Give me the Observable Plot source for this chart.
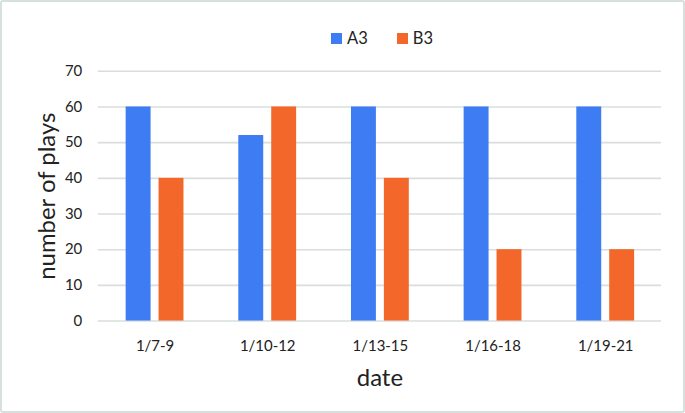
<!DOCTYPE html>
<html>
<head>
<meta charset="utf-8">
<script src="https://cdn.jsdelivr.net/npm/d3@7"></script>
<script src="https://cdn.jsdelivr.net/npm/@observablehq/plot@0.6"></script>
<style>
  html, body { margin: 0; padding: 0; background: #fff; }
  #wrap { position: relative; width: 685px; height: 413px; box-sizing: border-box;
          border: 2px solid #d6e0dd; border-radius: 3px; overflow: hidden; font-family: Lato, sans-serif; }
  #chart { position: absolute; left: -2px; top: -2px; }
  #legend { position: absolute; top: 26px; left: 329px; display: flex; align-items: center;
            font-size: 16.5px; color: #222; }
  .item { display: flex; align-items: center; margin-right: 29px; }
  .sw { width: 11px; height: 11px; margin-right: 5px; }
</style>
</head>
<body>
<div id="wrap">
  <div id="chart"></div>
  <div id="legend"></div>
</div>
<script>
const dates = ["1/7-9", "1/10-12", "1/13-15", "1/16-18", "1/19-21"];
const seriesNames = ["A3", "B3"];
const a3 = [60, 52, 60, 60, 60];
const b3 = [40, 60, 40, 20, 20];
const yTicks = [0, 10, 20, 30, 40, 50, 60, 70];
const colors = ["#3d7cf3", "#f4672a"];
const yTitle = "number of plays";
const xTitle = "date";

const rows = dates.map((d, i) => ({date: d, A3: a3[i], B3: b3[i]}));

const plot = Plot.plot({
  width: 685,
  height: 413,
  marginTop: 71,
  marginBottom: 91.5,
  marginLeft: 98,
  marginRight: 22,
  style: {fontFamily: "Lato, sans-serif", color: "#222", background: "transparent"},
  x: {type: "band", domain: dates, paddingInner: 0.487, paddingOuter: 0.2435},
  y: {domain: [0, 70]},
  marks: [
    Plot.ruleY(yTicks, {stroke: "#d9dedd", strokeWidth: 1.6}),
    Plot.barY(rows, {x: "date", y: "A3", fill: colors[0], insetRight: 33}),
    Plot.barY(rows, {x: "date", y: "B3", fill: colors[1], insetLeft: 33}),
    Plot.axisY({ticks: yTicks, tickSize: 0, tickPadding: 16, fontSize: 15, label: null, fill: "#222"}),
    Plot.axisX({tickSize: 0, tickPadding: 19, fontSize: 15, label: null, fill: "#222"}),
    Plot.text([xTitle], {frameAnchor: "bottom", text: d => d, dy: 65, lineAnchor: "bottom", textAnchor: "middle", fontSize: 24, fill: "#222"}),
    Plot.text([yTitle], {frameAnchor: "left", text: d => d, rotate: -90, dx: -43.5, lineAnchor: "bottom", textAnchor: "middle", fontSize: 24, fill: "#222"})
  ]
});
document.getElementById("chart").appendChild(plot);

const legend = document.getElementById("legend");
seriesNames.forEach((s, i) => {
  const item = document.createElement("div");
  item.className = "item";
  const sw = document.createElement("span");
  sw.className = "sw";
  sw.style.background = colors[i];
  const t = document.createElement("span");
  t.textContent = s;
  item.appendChild(sw);
  item.appendChild(t);
  legend.appendChild(item);
});
</script>
</body>
</html>
